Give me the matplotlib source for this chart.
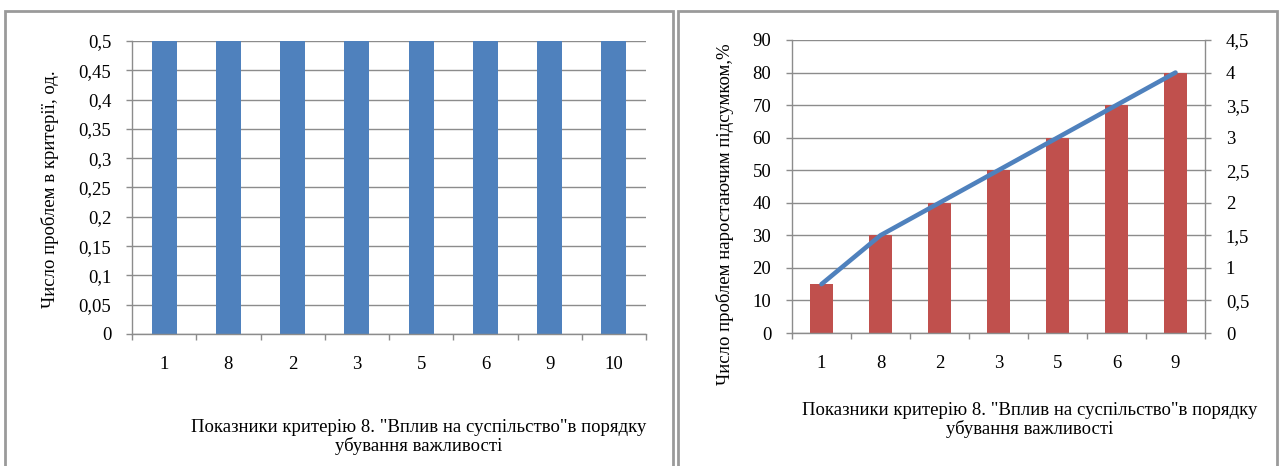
import numpy as np
import matplotlib
matplotlib.use("Agg")
import matplotlib.pyplot as plt
from matplotlib.patches import Rectangle

# --- data ---------------------------------------------------------------
left_cats = ["1", "8", "2", "3", "5", "6", "9", "10"]
left_vals = [0.5, 0.5, 0.5, 0.5, 0.5, 0.5, 0.5, 0.5]

right_cats = ["1", "8", "2", "3", "5", "6", "9"]
right_bars = [15, 30, 40, 50, 60, 70, 80]          # cumulative, %
right_line = [0.75, 1.5, 2, 2.5, 3, 3.5, 4]        # secondary axis

left_yticks = [0, 0.05, 0.1, 0.15, 0.2, 0.25, 0.3, 0.35, 0.4, 0.45, 0.5]
right_yticks = [0, 10, 20, 30, 40, 50, 60, 70, 80, 90]
right_y2ticks = [0, 0.5, 1, 1.5, 2, 2.5, 3, 3.5, 4, 4.5]

xlabel_text = 'Показники критерію 8. "Вплив на суспільство"в порядку\nубування важливості'
left_ylabel = "Число проблем в критерії, од."
right_ylabel = "Число проблем наростаючим підсумком,%"

# --- style --------------------------------------------------------------
plt.rcParams["font.family"] = ["Liberation Serif", "DejaVu Serif"]
FS = 13.5
GRID = "#8c8c8c"
BLUE = "#4F81BD"
RED = "#C0504D"

W, H = 1286, 466
fig = plt.figure(figsize=(W / 100, H / 100), dpi=100)


def px_axes(x0, x1, ytop, ybot):
    return fig.add_axes([x0 / W, (H - ybot) / H, (x1 - x0) / W, (ybot - ytop) / H])


def fmt(v):
    return ("%g" % v).replace(".", ",")


def style_axes(ax, n, cats):
    ax.set_xlim(-0.5, n - 0.5)
    ax.set_xticks(range(n))
    ax.set_xticklabels(cats, fontsize=FS)
    ax.set_xticks(np.arange(n + 1) - 0.5, minor=True)
    ax.tick_params(axis="x", which="major", length=0, pad=16)
    ax.tick_params(axis="x", which="minor", length=4.5, color=GRID, width=1)
    ax.tick_params(axis="y", length=4, color=GRID, width=1, pad=11, labelsize=FS)
    ax.grid(axis="y", color=GRID, linewidth=1)
    ax.set_axisbelow(True)
    for s in ("top", "right"):
        ax.spines[s].set_visible(False)
    for s in ("left", "bottom"):
        ax.spines[s].set_color(GRID)
        ax.spines[s].set_linewidth(1)


# --- panel borders ------------------------------------------------------
for x0, x1 in [(5, 673), (678, 1277)]:
    fig.patches.append(Rectangle((x0 / W, -0.05), (x1 - x0) / W, (H - 11) / H + 0.05,
                                 transform=fig.transFigure, fill=False,
                                 edgecolor="#9a9a9a", linewidth=2))

# --- left chart ---------------------------------------------------------
ax1 = px_axes(132, 646, 41, 334)
ax1.bar(range(len(left_cats)), left_vals, width=0.39, color=BLUE, zorder=2)
ax1.set_ylim(0, 0.5)
ax1.set_yticks(left_yticks)
ax1.set_yticklabels([fmt(v) for v in left_yticks])
style_axes(ax1, len(left_cats), left_cats)
fig.text(50 / W, 1 - 189 / H, left_ylabel, rotation=90, ha="center", va="center", fontsize=FS)
fig.text(419 / W, 1 - 437 / H, xlabel_text, ha="center", va="center",
         multialignment="center", fontsize=FS, linespacing=1.1)

# --- right chart (bars + cumulative line on secondary axis) -------------
ax2 = px_axes(792, 1205, 40, 333)
ax2.bar(range(len(right_cats)), right_bars, width=0.375, color=RED, zorder=2)
ax2.set_ylim(0, 90)
ax2.set_yticks(right_yticks)
ax2.set_yticklabels([fmt(v) for v in right_yticks])
style_axes(ax2, len(right_cats), right_cats)

ax3 = ax2.twinx()
ax3.plot(range(len(right_cats)), right_line, color=BLUE, linewidth=3.3,
         solid_capstyle="round", zorder=3)
ax3.set_ylim(0, 4.5)
ax3.set_yticks(right_y2ticks)
ax3.set_yticklabels([fmt(v) for v in right_y2ticks])
ax3.tick_params(axis="y", length=4, color=GRID, width=1, pad=11, labelsize=FS)
for s in ("top", "left", "bottom"):
    ax3.spines[s].set_visible(False)
ax3.spines["right"].set_color(GRID)
ax3.spines["right"].set_linewidth(1)

fig.text(725 / W, 1 - 214 / H, right_ylabel, rotation=90, ha="center", va="center", fontsize=FS)
fig.text(1030 / W, 1 - 420 / H, xlabel_text, ha="center", va="center",
         multialignment="center", fontsize=FS, linespacing=1.1)

fig.savefig("out.png", dpi=100, facecolor="white")
